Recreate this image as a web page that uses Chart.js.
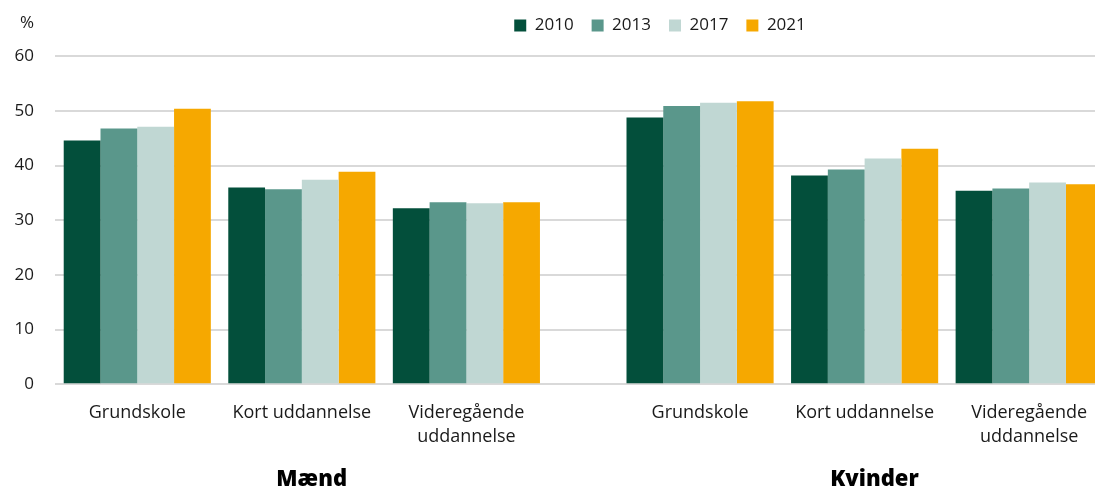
<!DOCTYPE html>
<html>
<head>
<meta charset="utf-8">
<script src="https://cdn.jsdelivr.net/npm/chart.js@4.4.1/dist/chart.umd.min.js"></script>
<style>
  html, body { margin: 0; padding: 0; background: #fff; }
  #wrap { width: 1095px; height: 490px; }
</style>
</head>
<body>
<div id="wrap"><canvas id="chart"></canvas></div>
<script>
// data, in %
let years = ['2010', '2013', '2017', '2021'];
let groups = ['Mænd', 'Kvinder'];
let categories = [['Grundskole'], ['Kort uddannelse'], ['Videregående', 'uddannelse']];

// order: Mænd (Grundskole, Kort, Videregående), Kvinder (same)
let values2010 = [44.6, 36.0, 32.2, 48.8, 38.2, 35.4];
let values2013 = [46.8, 35.7, 33.3, 50.9, 39.3, 35.8];
let values2017 = [47.1, 37.4, 33.1, 51.5, 41.3, 36.9];
let values2021 = [50.4, 38.9, 33.3, 51.8, 43.1, 36.6];

let yTicks = [0, 10, 20, 30, 40, 50, 60];
let unitLabel = '%';

// layout
let colors = ['#034f3b', '#5a978b', '#c0d7d3', '#f6a800'];
let groupStep = 3.42;      // where the second group starts on the x scale
let xMin = -0.5, xMax = 5.82;
let unitRow = 66;          // the '%' sits on a hidden tick above 60
let textColor = '#1a1a1a';

let series = [values2010, values2013, values2017, values2021];
let xPos = [];
let xLabels = [];
groups.forEach((g, gi) => {
  categories.forEach((c, ci) => {
    xPos.push(gi * groupStep + ci);
    xLabels.push(c);
  });
});
let groupPos = groups.map((g, gi) => gi * groupStep + 1.06);

Chart.defaults.font.family = "'Open Sans', sans-serif";
Chart.defaults.color = textColor;

// put the legend where the reference has it, top row right of centre
const legendPlace = {
  id: 'legendPlace',
  afterLayout(chart) {
    const lg = chart.legend;
    lg.left = 225;
    lg.right = 1095;
    lg.top = -1;
    lg.bottom = lg.top + 50;
  }
};

// no extra room for overhanging tick labels
let noPad = s => {
  s.paddingLeft = 0;
  s.paddingRight = 0;
  s.paddingTop = 0;
  s.paddingBottom = 0;
};

let ctx = document.getElementById('chart').getContext('2d');

let chart = new Chart(ctx, {
  type: 'bar',
  data: {
    datasets: series.map((vals, i) => ({
      label: years[i],
      data: vals.map((v, k) => ({ x: xPos[k], y: v })),
      backgroundColor: colors[i],
      borderWidth: 0,
      categoryPercentage: 0.894,
      barPercentage: 1
    }))
  },
  options: {
    responsive: true,
    maintainAspectRatio: false,
    animation: false,
    layout: { padding: 0 },
    plugins: {
      tooltip: { enabled: false },
      legend: {
        position: 'top',
        maxHeight: 23.5,
        labels: {
          boxWidth: 12,
          boxHeight: 12,
          padding: 18,
          font: { size: 17 },
          color: textColor
        }
      }
    },
    scales: {
      x: {
        type: 'linear',
        min: xMin,
        max: xMax,
        offset: false,
        grid: { display: false, drawTicks: false },
        border: { display: false },
        afterBuildTicks: s => { s.ticks = xPos.map(v => ({ value: v })); },
        afterFit: s => { s.height = 62.7; noPad(s); },
        ticks: {
          autoSkip: false,
          maxRotation: 0,
          padding: 17,
          font: { size: 18, lineHeight: 1.333 },
          color: textColor,
          callback: (v, i) => xLabels[i]
        }
      },
      x2: {
        type: 'linear',
        position: 'bottom',
        weight: 1,
        min: xMin,
        max: xMax,
        offset: false,
        grid: { display: false, drawTicks: false },
        border: { display: false },
        afterBuildTicks: s => { s.ticks = groupPos.map(v => ({ value: v })); },
        afterFit: s => { s.height = 43; noPad(s); },
        ticks: {
          autoSkip: false,
          maxRotation: 0,
          padding: 20,
          font: { size: 22, weight: 800, lineHeight: 1.2 },
          color: '#000',
          callback: (v, i) => groups[i]
        }
      },
      y: {
        min: 0,
        max: unitRow,
        afterBuildTicks: s => { s.ticks = yTicks.concat([unitRow]).map(v => ({ value: v })); },
        afterFit: s => { s.width = 55; noPad(s); },
        grid: {
          drawTicks: false,
          lineWidth: 2,
          color: c => c.tick && c.tick.value === unitRow ? 'rgba(0,0,0,0)' : '#d9d9d9'
        },
        border: { display: false },
        ticks: {
          padding: 21,
          font: { size: 17 },
          color: textColor,
          callback: v => v === unitRow ? unitLabel : v
        }
      }
    }
  },
  plugins: [legendPlace]
});
</script>
</body>
</html>
